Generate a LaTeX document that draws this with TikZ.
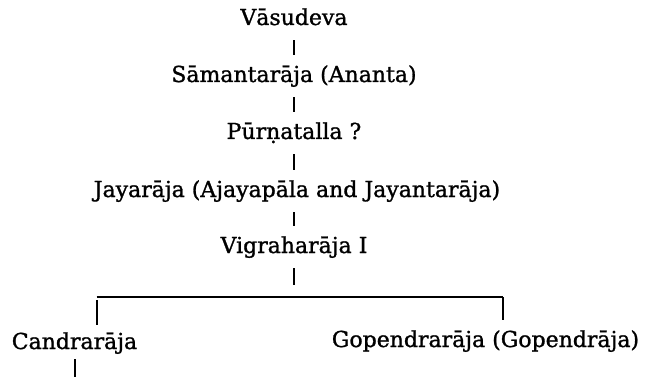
\documentclass[tikz,border=0pt]{standalone}
\usepackage{fontspec}
\setmainfont{DejaVu Serif}[FakeBold=1.2]
\begin{document}
\begin{tikzpicture}[x=1pt,y=-1pt,
  person/.style={anchor=base, inner sep=0pt, text height=18pt, text depth=6pt,
                 font=\fontsize{22}{26}\selectfont},
  link/.style={line width=2pt, shorten <=9pt, shorten >=9pt},
  bar/.style={line width=2.2pt}]
  \useasboundingbox (0,0) rectangle (650,377);

  % line of descent
  \node[person] (vas)  at (294,25)  {Vāsudeva};
  \node[person] (sam)  at (294,82)  {Sāmantarāja (Ananta)};
  \node[person] (pur)  at (294,139) {Pūrṇatalla ?};
  \node[person] (jay)  at (297,197) {Jayarāja (Ajayapāla and Jayantarāja)};
  \node[person] (vig)  at (294,253) {Vigraharāja I};
  \node[person] (can)  at (74.5,349) {Candrarāja};
  \node[person] (gop)  at (485.5,347) {Gopendrarāja (Gopendrāja)};

  \draw[link] (vas) -- (sam);
  \draw[link] (sam) -- (pur);
  \draw[link] (pur) -- (pur |- jay.north);
  \draw[link] (jay.south -| vig) -- (vig);

  % branching to the two sons
  \coordinate (stem) at (294,285);
  \coordinate (bl) at (96.5,297);
  \coordinate (br) at (503,297);
  \draw[link, shorten >=0pt] (vig) -- (stem);
  \draw[bar] (bl) -- (br);
  \draw[line width=2pt, shorten <=3pt] (bl) -- ([yshift=6pt]bl |- can.north);
  \draw[line width=2pt] (br) -- ([yshift=9pt]br |- gop.north);

  % continuation below Candraraja
  \coordinate (next) at (74.5,377);
  \draw[line width=2pt, shorten <=4pt] (can.south) -- (next);
\end{tikzpicture}
\end{document}
